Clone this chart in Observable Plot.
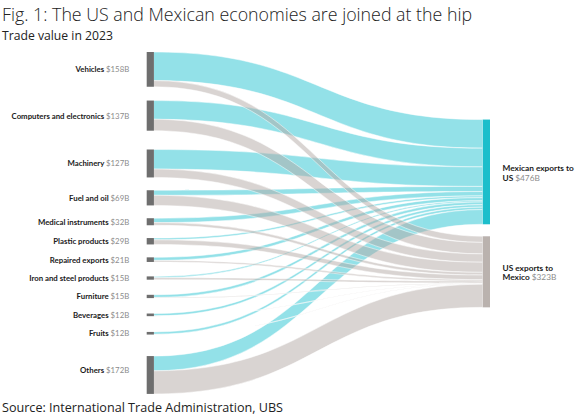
<!DOCTYPE html>
<html><head><meta charset="utf-8">
<script src="https://cdn.jsdelivr.net/npm/d3@7"></script>
<script src="https://cdn.jsdelivr.net/npm/@observablehq/plot@0.6"></script>
<style>
body{margin:0;background:#fff;font-family:"Open Sans",sans-serif;color:#222;width:580px;height:418px;overflow:hidden;}
#title{font-size:17.8px;font-weight:300;line-height:24px;padding:2px 0 0 2px;height:24px;white-space:nowrap;}
#sub{font-size:12.2px;line-height:14px;margin-top:3px;padding-left:2px;height:14px;white-space:nowrap;}
#chart{height:355px;}
#src{font-size:12.6px;line-height:18px;padding:1px 0 0 2px;white-space:nowrap;}
</style></head><body>
<div id="title">Fig. 1: The US and Mexican economies are joined at the hip</div>
<div id="sub">Trade value in 2023</div>
<div id="chart"></div>
<div id="src">Source: International Trade Administration, UBS</div>
<script>
const categories = ["Vehicles","Computers and electronics","Machinery","Fuel and oil","Medical instruments","Plastic products","Repaired exports","Iron and steel products","Furniture","Beverages","Fruits","Others"];
const mexicanExports = [130,85,89,23,20,8,14,6,12,11,11,67];
const usExports = [28,52,38,46,12,21,7,9,3,1,1,105];
const targets = ["Mexican exports to\nUS", "US exports to\nMexico"];

// layout (in $B units)
const k = 0.22;               // px per $B
const gap = 12.8 / k, minStep = 18.4 / k, rightGap = 12 / k;
const extraBefore = {"Computers and electronics": 1 / k, "Machinery": 6 / k, "Others": 8.7 / k};
const totals = categories.map((c, i) => mexicanExports[i] + usExports[i]);
const nodes = [];
let c = totals[0] / 2;
categories.forEach((name, i) => {
  if (i > 0) {
    c += Math.max(minStep, totals[i - 1] / 2 + totals[i] / 2 + gap) + (extraBefore[name] || 0);
  }
  nodes.push({name, value: totals[i], y1: c - totals[i] / 2, y2: c + totals[i] / 2, center: c,
              labelY: name === "Others" ? c - 5 / k : c});
});
const leftSpan = nodes[nodes.length - 1].y2;
const mxTotal = d3.sum(mexicanExports), usTotal = d3.sum(usExports);
const rightSpan = mxTotal + usTotal + rightGap;
const rTop = (leftSpan - rightSpan) / 2 - 9.5 / k;
const rightNodes = [
  {name: targets[0], value: mxTotal, y1: rTop, y2: rTop + mxTotal, fill: "#1cbecb"},
  {name: targets[1], value: usTotal, y1: rTop + mxTotal + rightGap, y2: rTop + mxTotal + rightGap + usTotal, fill: "#bab2ae"}
];
rightNodes.forEach(d => d.center = (d.y1 + d.y2) / 2);

const w = 0.021;
const links = [];
let mxOff = rightNodes[0].y1, usOff = rightNodes[1].y1;
nodes.forEach((n, i) => {
  const m = mexicanExports[i], u = usExports[i];
  links.push({id: "m" + i, type: "mx", x: w, y1: n.y1, y2: n.y1 + m});
  links.push({id: "m" + i, type: "mx", x: 1 - w, y1: mxOff, y2: mxOff + m});
  mxOff += m;
  links.push({id: "u" + i, type: "us", x: w, y1: n.y1 + m, y2: n.y2});
  links.push({id: "u" + i, type: "us", x: 1 - w, y1: usOff, y2: usOff + u});
  usOff += u;
});

const fmt = v => "$" + v + "B";
const chart = Plot.plot({
  width: 580, height: 355,
  margin: 0,
  x: {domain: [0, 1], range: [146.7, 490], axis: null},
  y: {domain: [0, 1000], range: [9, 9 + 1000 * k], axis: null},
  style: {fontFamily: "Lato, 'Open Sans', sans-serif", background: "transparent"},
  marks: [
    Plot.areaY(links.filter(d => d.type === "mx"), {x: "x", y1: "y1", y2: "y2", z: "id", curve: "bump-x", fill: "#45cbd7", fillOpacity: 0.58, stroke: "white", strokeWidth: 0.5}),
    Plot.areaY(links.filter(d => d.type === "us"), {x: "x", y1: "y1", y2: "y2", z: "id", curve: "bump-x", fill: "#b3aaa5", fillOpacity: 0.5, stroke: "white", strokeWidth: 0.5}),
    Plot.rect(nodes, {x1: 0, x2: w, y1: "y1", y2: "y2", fill: "#6e6e6e"}),
    Plot.rect(rightNodes, {x1: 1 - w, x2: 1, y1: "y1", y2: "y2", fill: "fill"}),
    Plot.text(nodes, {x: 0, y: "labelY", dx: -18, text: d => d.name + " " + fmt(d.value), textAnchor: "end", fontSize: 7.8, fontWeight: "bold", fill: "#1a1a1a"}),
    Plot.text(rightNodes, {x: 1, y: "center", dx: 12, text: d => d.name + " " + fmt(d.value), textAnchor: "start", fontSize: 8.3, fontWeight: "bold", fill: "#1a1a1a", lineHeight: 1.2, lineAnchor: "middle"})
  ]
});
document.getElementById("chart").appendChild(chart);

// style value part in grey
const ns = "http://www.w3.org/2000/svg";
d3.select(chart).selectAll('g[aria-label="text"] text').each(function () {
  const tsp = this.querySelectorAll("tspan");
  const tgts = tsp.length ? Array.from(tsp) : [this];
  for (const t of tgts) {
    const s = t.textContent, i = s.indexOf("$");
    if (i >= 0) {
      t.textContent = s.slice(0, i);
      const sp = document.createElementNS(ns, "tspan");
      sp.setAttribute("fill", "#8c8c8c");
      sp.setAttribute("font-weight", "normal");
      sp.textContent = s.slice(i);
      t.appendChild(sp);
    }
  }
});
</script>
</body></html>
